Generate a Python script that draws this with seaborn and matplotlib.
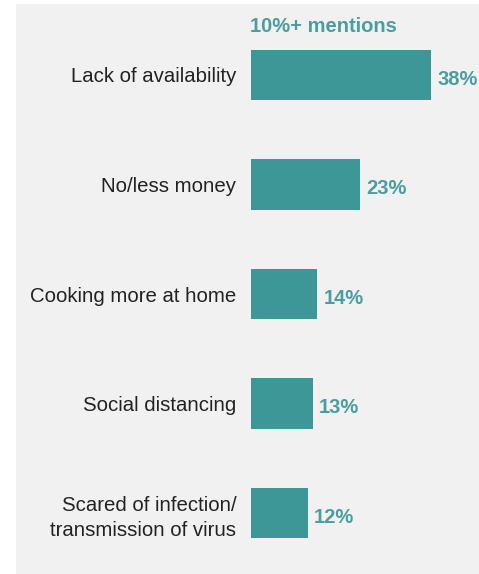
import matplotlib
matplotlib.use("Agg")
import matplotlib.pyplot as plt
import seaborn as sns
import pandas as pd
from matplotlib.patches import Rectangle

categories = ["Lack of availability", "No/less money", "Cooking more at home",
              "Social distancing", "Scared of infection/\ntransmission of virus"]
values = [38, 23, 14, 13, 12]
labels = ["38%", "23%", "14%", "13%", "12%"]
title = "10%+ mentions"

df = pd.DataFrame({"category": categories, "value": values})

sns.set_theme(style="white")
plt.rcParams["font.family"] = ["Liberation Sans", "DejaVu Sans"]

W, H = 479, 574
fig = plt.figure(figsize=(W / 100, H / 100), dpi=100)
fig.patch.set_facecolor("white")
fig.patches.append(Rectangle((16 / W, 0), 1, 1 - 4 / H, transform=fig.transFigure,
                             facecolor="#f1f1f1", edgecolor="none", zorder=-5))

ax_left = 251 / W
ax_top = 20.25
ax_bottom = 567.75
ax = fig.add_axes([ax_left, 1 - ax_bottom / H, 1 - ax_left, (ax_bottom - ax_top) / H])
ax.patch.set_alpha(0)

sns.barplot(data=df, x="value", y="category", color="#3e9797", saturation=1,
            width=0.46, ax=ax, orient="h", linewidth=0)
ax.set_xlim(0, (W - 251) / 4.74)
ax.set_ylim(4.5, -0.5)
for s in ax.spines.values():
    s.set_visible(False)
ax.set_xlabel("")
ax.set_ylabel("")
ax.set_xticks([])
ax.tick_params(axis="y", length=0, pad=10.5, labelsize=14.7, labelcolor="#222222")
for t in ax.get_yticklabels():
    t.set_horizontalalignment("right")
    t.set_multialignment("right")
    t.set_linespacing(1.4)

for i, (v, lab) in enumerate(zip(values, labels)):
    ax.annotate(lab, xy=(v, i), xytext=(4.5, -1.5), textcoords="offset points",
                va="center_baseline", ha="left", fontsize=14.5, fontweight="bold",
                color="#4a9e9f", annotation_clip=False)

fig.text(250 / W, 1 - 24.5 / H, title, ha="left", va="center_baseline", fontsize=14.5,
         fontweight="bold", color="#4a9e9f")

fig.savefig("out.png", dpi=100, facecolor=fig.get_facecolor())
